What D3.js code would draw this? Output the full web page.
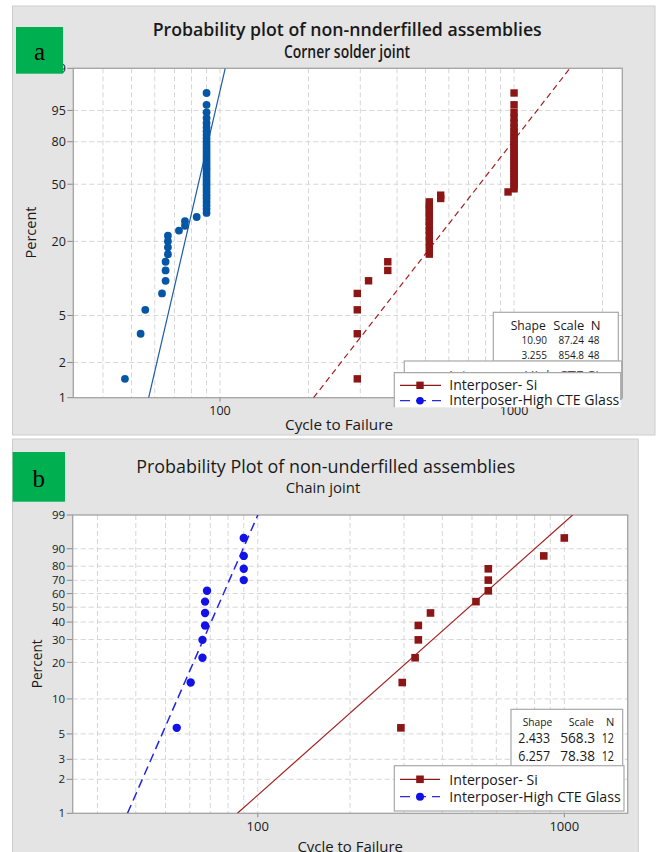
<!DOCTYPE html>
<html>
<head>
<meta charset="utf-8">
<script src="https://cdn.jsdelivr.net/npm/d3@7"></script>
<style>
  html, body { margin: 0; padding: 0; background: #ffffff; }
  svg { display: block; font-family: "Open Sans", "Noto Sans", sans-serif; }
</style>
</head>
<body>
<svg id="chart" width="657" height="852"></svg>
<script>
// ---- data -------------------------------------------------------------
const seriesNames = ["Interposer- Si", "Interposer-High CTE Glass"];

// Median-rank plotting positions (percent) for 48 and 12 units
const rankPct48 = [1.45, 3.51, 5.58, 7.64, 9.71, 11.78, 13.84, 15.91, 17.98, 20.04,
  22.11, 24.17, 26.24, 28.31, 30.37, 32.44, 34.50, 36.57, 38.64, 40.70,
  42.77, 44.83, 46.90, 48.97, 51.03, 53.10, 55.17, 57.23, 59.30, 61.36,
  63.43, 65.50, 67.56, 69.63, 71.69, 73.76, 75.83, 77.89, 79.96, 82.02,
  84.09, 86.16, 88.22, 90.29, 92.36, 94.42, 96.49, 98.55];
const rankPct12 = [5.65, 13.71, 21.77, 29.84, 37.90, 45.97, 54.03, 62.10, 70.16, 78.23, 86.29, 94.35];

// (a) Corner solder joint: cycles to failure, sorted
const cornerSi = [293, 293, 293, 293, 320, 372, 372,
  515, 515, 515, 515, 515, 515, 515, 515, 515, 515, 515, 515,
  563, 563, 954,
  1000, 1000, 1000, 1000, 1000, 1000, 1000, 1000, 1000, 1000, 1000, 1000, 1000,
  1000, 1000, 1000, 1000, 1000, 1000, 1000, 1000, 1000, 1000, 1000, 1000, 1000];
const cornerGlass = [47.5, 53.7, 55.7, 63.5, 65.3, 65.3, 65.3, 66.5, 66.5, 66.5, 66.5,
  72.5, 76, 76, 83.3,
  90, 90, 90, 90, 90, 90, 90, 90, 90, 90, 90, 90, 90, 90, 90, 90, 90,
  90, 90, 90, 90, 90, 90, 90, 90, 90, 90, 90, 90, 90, 90, 90, 90];
// Weibull fit table, rows in printed order (Glass, Si)
const cornerRows = ["Glass", "Si"];
const cornerShape = [10.90, 3.255];
const cornerScale = [87.24, 854.8];
const cornerN = [48, 48];

// (b) Chain joint: cycles to failure, sorted
const chainSi = [293, 296, 326, 334, 334, 366, 515, 565, 565, 565, 857, 1000];
const chainGlass = [54.4, 60.4, 66, 66, 67.3, 67.3, 67.3, 68.3, 90, 90, 90, 90];
// Weibull fit table, rows in printed order (Si, Glass)
const chainRows = ["Si", "Glass"];
const chainShape = [2.433, 6.257];
const chainScale = [568.3, 78.38];
const chainN = [12, 12];

// axis ticks
const cornerYTicks = [1, 2, 5, 20, 50, 80, 95, 99.9];
const chainYTicks = [1, 2, 3, 5, 10, 20, 30, 40, 50, 60, 70, 80, 90, 99];
const xTickLabels = [100, 1000];
const cornerXGrid = [40, 50, 60, 70, 80, 90, 100, 200, 300, 400, 500, 600, 700, 800, 900, 1000, 2000];
const chainXGrid = [30, 40, 50, 60, 70, 80, 90, 100, 200, 300, 400, 500, 600, 700, 800, 900, 1000];

// ---- helpers ------------------------------------------------------------
const svg = d3.select("#chart");
const SI_RED = "#8c1515";
const weib = p => Math.log(-Math.log(1 - p / 100));          // Weibull probability transform
const weibQuantile = (p, shape, scale) => scale * Math.pow(-Math.log(1 - p / 100), 1 / shape);

function label(g, str, x, y, o = {}) {
  const t = g.append("text")
    .attr("x", x).attr("y", y)
    .attr("font-size", o.size || 12)
    .attr("font-weight", o.weight || 400)
    .attr("fill", o.fill || "#1a1a1a")
    .attr("text-anchor", o.anchor || "start")
    .text(str);
  if (o.len) t.attr("textLength", o.len).attr("lengthAdjust", "spacingAndGlyphs");
  if (o.family) t.attr("font-family", o.family);
  if (o.rotate) t.attr("transform", `rotate(-90,${x},${y})`);
  return t;
}

function drawPanel(cfg) {
  const g = svg.append("g");
  // panel background
  g.append("rect").attr("x", cfg.bg[0]).attr("y", cfg.bg[1])
    .attr("width", cfg.bg[2]).attr("height", cfg.bg[3])
    .attr("fill", "#e4e4e4").attr("stroke", "#cdcdcd").attr("stroke-width", 1);

  const P = cfg.plot;
  const x = d3.scaleLog().domain(cfg.xDomain).range([P.l, P.r]);
  const yT = d3.scaleLinear().domain([weib(cfg.yDomain[0]), weib(cfg.yDomain[1])]).range([P.b, P.t]);
  const y = p => yT(weib(p));

  g.append("rect").attr("x", P.l).attr("y", P.t).attr("width", P.r - P.l).attr("height", P.b - P.t)
    .attr("fill", "#ffffff");

  // grid
  const grid = g.append("g").attr("stroke", "#d6d6d6").attr("stroke-width", 1).attr("stroke-dasharray", "5,3");
  grid.selectAll("line.v").data(cfg.xGrid).join("line")
    .attr("x1", d => x(d)).attr("x2", d => x(d)).attr("y1", P.t).attr("y2", P.b);
  grid.selectAll("line.h").data(cfg.yTicks.slice(1, -1)).join("line")
    .attr("y1", d => y(d)).attr("y2", d => y(d)).attr("x1", P.l).attr("x2", P.r);

  // y axis ticks + labels
  const ya = g.append("g");
  cfg.yTicks.forEach(d => {
    ya.append("line").attr("x1", P.l - 6).attr("x2", P.l).attr("y1", y(d)).attr("y2", y(d))
      .attr("stroke", "#8a8a8a");
    label(ya, String(d), P.l - 7.5, y(d) + cfg.yLabelSize * 0.36, { size: cfg.yLabelSize, anchor: "end" });
  });
  // x axis ticks + labels
  xTickLabels.forEach(d => {
    g.append("line").attr("x1", x(d)).attr("x2", x(d)).attr("y1", P.b).attr("y2", P.b + 4)
      .attr("stroke", "#8a8a8a");
    label(g, String(d), x(d), cfg.xLabelY, { size: cfg.xLabelSize, anchor: "middle" });
  });

  // frame
  g.append("rect").attr("x", P.l).attr("y", P.t).attr("width", P.r - P.l).attr("height", P.b - P.t)
    .attr("fill", "none").attr("stroke", "#a3a3a3").attr("stroke-width", 1.3);

  // fitted Weibull lines
  const clipId = "clip" + cfg.id;
  g.append("clipPath").attr("id", clipId).append("rect")
    .attr("x", P.l).attr("y", P.t).attr("width", P.r - P.l).attr("height", P.b - P.t);
  const fitLine = d3.line().x(d => x(d.c)).y(d => y(d.p));
  cfg.fits.forEach(f => {
    const pts = [cfg.yDomain[0], cfg.yDomain[1]].map(p => ({ p, c: weibQuantile(p, f.shape, f.scale) }));
    g.append("path").attr("clip-path", `url(#${clipId})`)
      .attr("d", fitLine(pts)).attr("fill", "none")
      .attr("stroke", f.color).attr("stroke-width", f.width)
      .attr("stroke-dasharray", f.dash || null);
  });

  // points
  cfg.points.forEach(s => {
    const data = s.values.map((c, i) => ({ c, p: s.ranks[i] }));
    if (s.shape === "square") {
      g.append("g").selectAll("rect").data(data).join("rect")
        .attr("x", d => x(d.c) - s.size / 2).attr("y", d => y(d.p) - s.size / 2)
        .attr("width", s.size).attr("height", s.size).attr("fill", s.color);
    } else {
      g.append("g").selectAll("circle").data(data).join("circle")
        .attr("cx", d => x(d.c)).attr("cy", d => y(d.p)).attr("r", s.size).attr("fill", s.color);
    }
  });

  // axis titles
  label(g, "Cycle to Failure", cfg.xTitle[0], cfg.xTitle[1], { size: 15, len: cfg.xTitle[2] });
  label(g, "Percent", cfg.yTitle[0], cfg.yTitle[1], { size: 15, len: cfg.yTitle[2], anchor: "middle", rotate: true });

  return { g, x, y };
}

// ---- panel (a) ----------------------------------------------------------
const A = drawPanel({
  id: "a",
  bg: [12.5, 6, 642.5, 429],
  plot: { l: 73.3, t: 68.3, r: 622.3, b: 397.7 },
  xDomain: [31.7, 2334],
  yDomain: [1, 99.9],
  yTicks: cornerYTicks,
  xGrid: cornerXGrid,
  yLabelSize: 12.5,
  xLabelSize: 12.5,
  xLabelY: 415,
  xTitle: [285, 430, 108],
  yTitle: [35.5, 232.5, 52],
  fits: [
    { shape: cornerShape[0], scale: cornerScale[0], color: "#1d5aa8", width: 1.2 },
    { shape: cornerShape[1], scale: cornerScale[1], color: "#a32020", width: 1.2, dash: "6,4" }
  ],
  points: [
    { values: cornerGlass, ranks: rankPct48, shape: "circle", size: 3.9, color: "#0656a6" },
    { values: cornerSi, ranks: rankPct48, shape: "square", size: 7.4, color: SI_RED }
  ]
});

// fit table (a)
{
  const g = svg.append("g");
  g.append("rect").attr("x", 493.3).attr("y", 312.3).attr("width", 125).attr("height", 49)
    .attr("fill", "#fff").attr("stroke", "#a8a8a8").attr("stroke-width", 1.2);
  label(g, "Shape", 510.7, 329.5, { size: 13, len: 35 });
  label(g, "Scale", 553.3, 329.5, { size: 13, len: 31 });
  label(g, "N", 590.7, 329.5, { size: 13 });
  [0, 1].forEach(i => {
    const yy = 344 + i * 15;
    label(g, cornerShape[i].toFixed(cornerShape[i] < 10 ? 3 : 2), 547, yy, { size: 10, anchor: "end" });
    label(g, cornerScale[i] < 100 ? cornerScale[i].toFixed(2) : cornerScale[i].toFixed(1), 584, yy, { size: 10, anchor: "end" });
    label(g, String(cornerN[i]), 599.5, yy, { size: 10, anchor: "end" });
  });
  // legend stacked behind the front legend: only the tops of its letters show
  g.append("rect").attr("x", 404.3).attr("y", 361).attr("width", 217.4).attr("height", 38)
    .attr("fill", "#fff").attr("stroke", "#a8a8a8").attr("stroke-width", 1.2);
  g.append("clipPath").attr("id", "behindClip").append("rect")
    .attr("x", 404.3).attr("y", 361).attr("width", 217.4).attr("height", 11.5);
  label(g.append("g").attr("clip-path", "url(#behindClip)"),
    "Interposer-High CTE Si", 449, 381, { size: 14, len: 150, fill: "#555" });
  // front legend
  const L = svg.append("g");
  L.append("rect").attr("x", 394.3).attr("y", 372.7).attr("width", 226.4).attr("height", 34.6).attr("fill", "#fff");
  L.append("path").attr("d", "M394.3,407.3 V372.7 H620.7 V400")
    .attr("fill", "none").attr("stroke", "#a8a8a8").attr("stroke-width", 1.2);
  L.append("line").attr("x1", 400).attr("x2", 441).attr("y1", 385.3).attr("y2", 385.3).attr("stroke", SI_RED).attr("stroke-width", 1.2);
  L.append("rect").attr("x", 416.3).attr("y", 381.6).attr("width", 7.4).attr("height", 7.4).attr("fill", SI_RED);
  L.append("line").attr("x1", 400).attr("x2", 441).attr("y1", 400.7).attr("y2", 400.7)
    .attr("stroke", "#2a2ae0").attr("stroke-width", 1.2).attr("stroke-dasharray", "10,6");
  L.append("circle").attr("cx", 420).attr("cy", 400.7).attr("r", 3.8).attr("fill", "#1010e8");
  label(L, seriesNames[0], 449.3, 389.5, { size: 14, len: 88 });
  label(L, seriesNames[1], 449.3, 404.5, { size: 14, len: 170 });
}

// ---- panel (b) ----------------------------------------------------------
const B = drawPanel({
  id: "b",
  bg: [12.5, 439, 625.8, 420],
  plot: { l: 72.7, t: 515, r: 627.7, b: 813.3 },
  xDomain: [24.9, 1610],
  yDomain: [1, 99],
  yTicks: chainYTicks,
  xGrid: chainXGrid,
  yLabelSize: 11.5,
  xLabelSize: 13,
  xLabelY: 830.5,
  xTitle: [297.4, 851.5, 105.6],
  yTitle: [42.5, 663.8, 49],
  fits: [
    { shape: chainShape[0], scale: chainScale[0], color: "#a32020", width: 1.2 },
    { shape: chainShape[1], scale: chainScale[1], color: "#2424e6", width: 1.5, dash: "9,5" }
  ],
  points: [
    { values: chainGlass, ranks: rankPct12, shape: "circle", size: 4.2, color: "#1212e8" },
    { values: chainSi, ranks: rankPct12, shape: "square", size: 7.6, color: SI_RED }
  ]
});

// fit table + legend (b)
{
  const g = svg.append("g");
  g.append("rect").attr("x", 511).attr("y", 709.3).attr("width", 111.7).attr("height", 60)
    .attr("fill", "#fff").attr("stroke", "#a8a8a8").attr("stroke-width", 1.2);
  label(g, "Shape", 522.7, 726, { size: 11, len: 29.6 });
  label(g, "Scale", 568.7, 726, { size: 11, len: 25.3 });
  label(g, "N", 606, 726, { size: 11 });
  [0, 1].forEach(i => {
    const yy = 742.8 + i * 18;
    label(g, chainShape[i].toFixed(3), 550, yy, { size: 15, anchor: "end", len: 31.7 });
    label(g, chainScale[i] < 100 ? chainScale[i].toFixed(2) : chainScale[i].toFixed(1), 595, yy, { size: 15, anchor: "end", len: 34.7 });
    label(g, String(chainN[i]), 614, yy, { size: 15, anchor: "end", len: 12.3 });
  });
  const L = svg.append("g");
  L.append("rect").attr("x", 394.3).attr("y", 765.7).attr("width", 229.7).attr("height", 45.3)
    .attr("fill", "#fff").attr("stroke", "#a8a8a8").attr("stroke-width", 1.2);
  L.append("line").attr("x1", 400).attr("x2", 440).attr("y1", 779.3).attr("y2", 779.3).attr("stroke", SI_RED).attr("stroke-width", 1.2);
  L.append("rect").attr("x", 416.2).attr("y", 775.5).attr("width", 7.6).attr("height", 7.6).attr("fill", SI_RED);
  L.append("line").attr("x1", 400).attr("x2", 440).attr("y1", 796.7).attr("y2", 796.7)
    .attr("stroke", "#2a2ae0").attr("stroke-width", 1.2).attr("stroke-dasharray", "10,6");
  L.append("circle").attr("cx", 420).attr("cy", 796.7).attr("r", 4).attr("fill", "#1010e8");
  label(L, seriesNames[0], 449.3, 784.5, { size: 14.5, len: 88.4 });
  label(L, seriesNames[1], 449.3, 801.8, { size: 14.5, len: 171.4 });
}

// ---- titles and panel tags ----------------------------------------------
label(svg, "Probability plot of non-nnderfilled assemblies", 152.7, 36, { size: 18.5, weight: 600, len: 389 });
label(svg, "Corner solder joint", 284, 58.3, { size: 18.5, weight: 600, len: 126 });
label(svg, "Probability Plot of non-underfilled assemblies", 136.2, 473.3, { size: 18, weight: 500, len: 379 });
label(svg, "Chain joint", 285.7, 493.3, { size: 14, len: 74.6 });

svg.append("rect").attr("x", 16).attr("y", 27).attr("width", 47).attr("height", 46.7).attr("fill", "#00b050");
label(svg, "a", 39.5, 60, { size: 25, anchor: "middle", family: '"Liberation Serif", "DejaVu Serif", serif', fill: "#000" });
svg.append("rect").attr("x", 12.6).attr("y", 452).attr("width", 52.4).attr("height", 49.7).attr("fill", "#00b050");
label(svg, "b", 38.8, 487, { size: 25, anchor: "middle", family: '"Liberation Serif", "DejaVu Serif", serif', fill: "#000" });
</script>
</body>
</html>
